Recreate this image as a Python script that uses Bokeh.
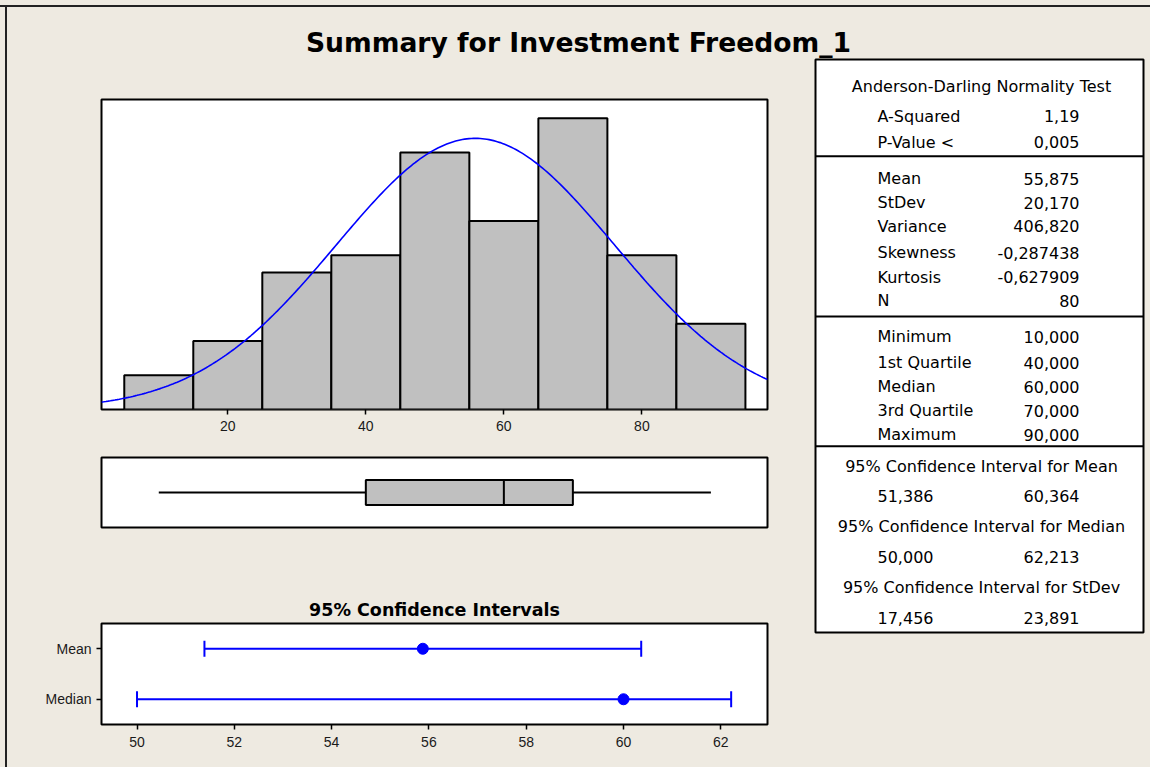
import numpy as np
from bokeh.plotting import figure
from bokeh.layouts import column, row
from bokeh.models import Range1d, FactorRange, FixedTicker, Span, Div, Label
from bokeh.embed import file_html
from bokeh.resources import INLINE

# ---------------- data ----------------
title_text = "Summary for Investment Freedom_1"
ci_title_text = "95% Confidence Intervals"

bin_left = [5, 15, 25, 35, 45, 55, 65, 75, 85]
bin_width = 10
counts = [2, 4, 8, 9, 15, 11, 17, 9, 5]

mean_val = 55.875
stdev_val = 20.170
n_obs = 80

q_min, q1, q_med, q3, q_max = 10.0, 40.0, 60.0, 70.0, 90.0

ci_cats = ["Mean", "Median"]
ci_center = [55.875, 60.0]
ci_lo = [51.386, 50.0]
ci_hi = [60.364, 62.213]

hist_ticks = [20, 40, 60, 80]
ci_ticks = [50, 52, 54, 56, 58, 60, 62]

ad_header = "Anderson-Darling Normality Test"
ad_labels = ["A-Squared", "P-Value <"]
ad_values = ["1,19", "0,005"]
moment_labels = ["Mean", "StDev", "Variance", "Skewness", "Kurtosis", "N"]
moment_values = ["55,875", "20,170", "406,820", "-0,287438", "-0,627909", "80"]
quant_labels = ["Minimum", "1st Quartile", "Median", "3rd Quartile", "Maximum"]
quant_values = ["10,000", "40,000", "60,000", "70,000", "90,000"]
ci_headers = ["95% Confidence Interval for Mean",
              "95% Confidence Interval for Median",
              "95% Confidence Interval for StDev"]
ci_low_txt = ["51,386", "50,000", "17,456"]
ci_high_txt = ["60,364", "62,213", "23,891"]

# ---------------- layout constants ----------------
BG = "#EEEAE1"
BLUE = "#0000FF"
GREY = "#C0C0C0"
TICK_FONT = "Liberation Sans"
TABLE_FONT = "DejaVu Sans"

row_y = [115.7, 141.7, 178.3, 202.3, 225.7, 252.3, 276.7, 300.0,
         336.0, 362.3, 386.0, 410.0, 434.0]
header_y = 86.0
ci_header_y = [465.7, 526.0, 587.3]
ci_val_y = [495.7, 556.0, 617.7]
divider_y = [155.7, 316.0, 445.7]
label_x = 877.0
value_x = 1079.0
center_x = 981.0


def make_fig(**kw):
    p = figure(output_backend="svg", toolbar_location=None, tools="",
               background_fill_color="white", border_fill_color=BG,
               outline_line_color="black", outline_line_width=2, **kw)
    p.grid.visible = False
    return p


def style_axis(ax, size="14px", standoff=6):
    ax.axis_line_color = None
    ax.major_tick_line_color = "black"
    ax.major_tick_line_width = 1.5
    ax.major_tick_out = 5
    ax.major_tick_in = 0
    ax.minor_tick_line_color = None
    ax.major_label_text_font = TICK_FONT
    ax.major_label_text_font_size = size
    ax.major_label_text_color = "#1a1a1a"
    ax.major_label_standoff = standoff


# ---------------- title ----------------
tp = figure(output_backend="svg", toolbar_location=None, tools="",
            width=1143, height=51, x_range=Range1d(7, 1150), y_range=Range1d(58, 7),
            background_fill_color=BG, border_fill_color=BG, outline_line_color=None,
            x_axis_location=None, y_axis_location=None, min_border=0)
tp.grid.visible = False
tp.add_layout(Label(x=578, y=42, text=title_text, text_align="center",
                    text_baseline="middle", text_font="DejaVu Sans",
                    text_font_style="bold", text_font_size="26.6px", text_color="black"))

# ---------------- histogram ----------------
x_range = Range1d(1.7, 98.2)
hp = make_fig(width=783, height=382, x_range=x_range, y_range=Range1d(0, 18.09),
              y_axis_location=None, min_border_left=94, min_border_right=23,
              min_border_top=41, min_border_bottom=31)
hp.quad(left=bin_left, right=[b + bin_width for b in bin_left], bottom=0, top=counts,
        fill_color=GREY, line_color="black", line_width=2)
xs = np.linspace(1.7, 98.2, 300)
ys = n_obs * bin_width * np.exp(-0.5 * ((xs - mean_val) / stdev_val) ** 2) / (stdev_val * np.sqrt(2 * np.pi))
hp.line(xs, ys, line_color=BLUE, line_width=1.6)
hp.xaxis.ticker = FixedTicker(ticks=hist_ticks)
style_axis(hp.xaxis[0], "14px", 6)

# ---------------- boxplot ----------------
bp = make_fig(width=783, height=105, x_range=x_range, y_range=Range1d(0, 1),
              x_axis_location=None, y_axis_location=None,
              min_border_left=94, min_border_right=23, min_border_top=17, min_border_bottom=18)
bp.segment(x0=[q_min, q3], y0=[0.5, 0.5], x1=[q1, q_max], y1=[0.5, 0.5],
           line_color="black", line_width=2)
bp.quad(left=[q1], right=[q3], bottom=[0.32], top=[0.68],
        fill_color=GREY, line_color="black", line_width=2)
bp.segment(x0=[q_med], y0=[0.32], x1=[q_med], y1=[0.68], line_color="black", line_width=2)

# ---------------- confidence intervals ----------------
cp = make_fig(width=783, height=222, x_range=Range1d(49.27, 62.96),
              y_range=FactorRange(factors=["Median", "Mean"]),
              min_border_left=94, min_border_right=23, min_border_top=78, min_border_bottom=43)
cp.title.text = ci_title_text
cp.title.align = "center"
cp.title.text_font = "DejaVu Sans"
cp.title.text_font_style = "bold"
cp.title.text_font_size = "17.5px"
cp.title.text_color = "black"
cp.title.standoff = 8
cp.segment(x0=ci_lo, y0=ci_cats, x1=ci_hi, y1=ci_cats, line_color=BLUE, line_width=2)
cp.scatter(x=ci_lo + ci_hi, y=ci_cats + ci_cats, marker="dash", angle=np.pi / 2,
           size=16, line_color=BLUE, line_width=2)
cp.scatter(x=ci_center, y=ci_cats, size=11, fill_color=BLUE, line_color=BLUE)
cp.xaxis.ticker = FixedTicker(ticks=ci_ticks)
style_axis(cp.xaxis[0], "14px", 7)
style_axis(cp.yaxis[0], "14px", 5)

# ---------------- statistics table ----------------
sp = make_fig(width=360, height=709, x_range=Range1d(815, 1143), y_range=Range1d(632, 59),
              x_axis_location=None, y_axis_location=None,
              min_border_left=25, min_border_right=7, min_border_top=1, min_border_bottom=135)
for yv in divider_y:
    sp.add_layout(Span(location=yv, dimension="width", line_color="black", line_width=2))

left_labels = ad_labels + moment_labels + quant_labels
right_values = ad_values + moment_values + quant_values
common = dict(text_baseline="middle", text_font={"value": TABLE_FONT},
              text_font_size="16px", text_color="black")
sp.text(x=[label_x] * len(left_labels), y=row_y, text=left_labels, text_align="left", **common)
sp.text(x=[value_x] * len(right_values), y=row_y, text=right_values, text_align="right", **common)
sp.text(x=[center_x] * 4, y=[header_y] + ci_header_y, text=[ad_header] + ci_headers,
        text_align="center", **common)
sp.text(x=[label_x] * 3, y=ci_val_y, text=ci_low_txt, text_align="left", **common)
sp.text(x=[value_x] * 3, y=ci_val_y, text=ci_high_txt, text_align="right", **common)

# ---------------- assemble ----------------
top_pad = Div(text="", width=1150, height=5, margin=0, styles={"background-color": BG})
top_line = Div(text="", width=1150, height=2, margin=0, styles={"background-color": "#222"})
left_pad = Div(text="", width=5, height=760, margin=0, styles={"background-color": BG})
left_line = Div(text="", width=2, height=760, margin=0, styles={"background-color": "#222"})
left_col = column(hp, bp, cp, spacing=0, styles={"background-color": BG})
content = column(tp, row(left_col, sp, spacing=0, styles={"background-color": BG}),
                 spacing=0, styles={"background-color": BG})
root = column(top_pad, top_line, row(left_pad, left_line, content, spacing=0,
                                     styles={"background-color": BG}),
              spacing=0, styles={"background-color": BG})

open("out.html", "w").write(file_html(root, INLINE))
